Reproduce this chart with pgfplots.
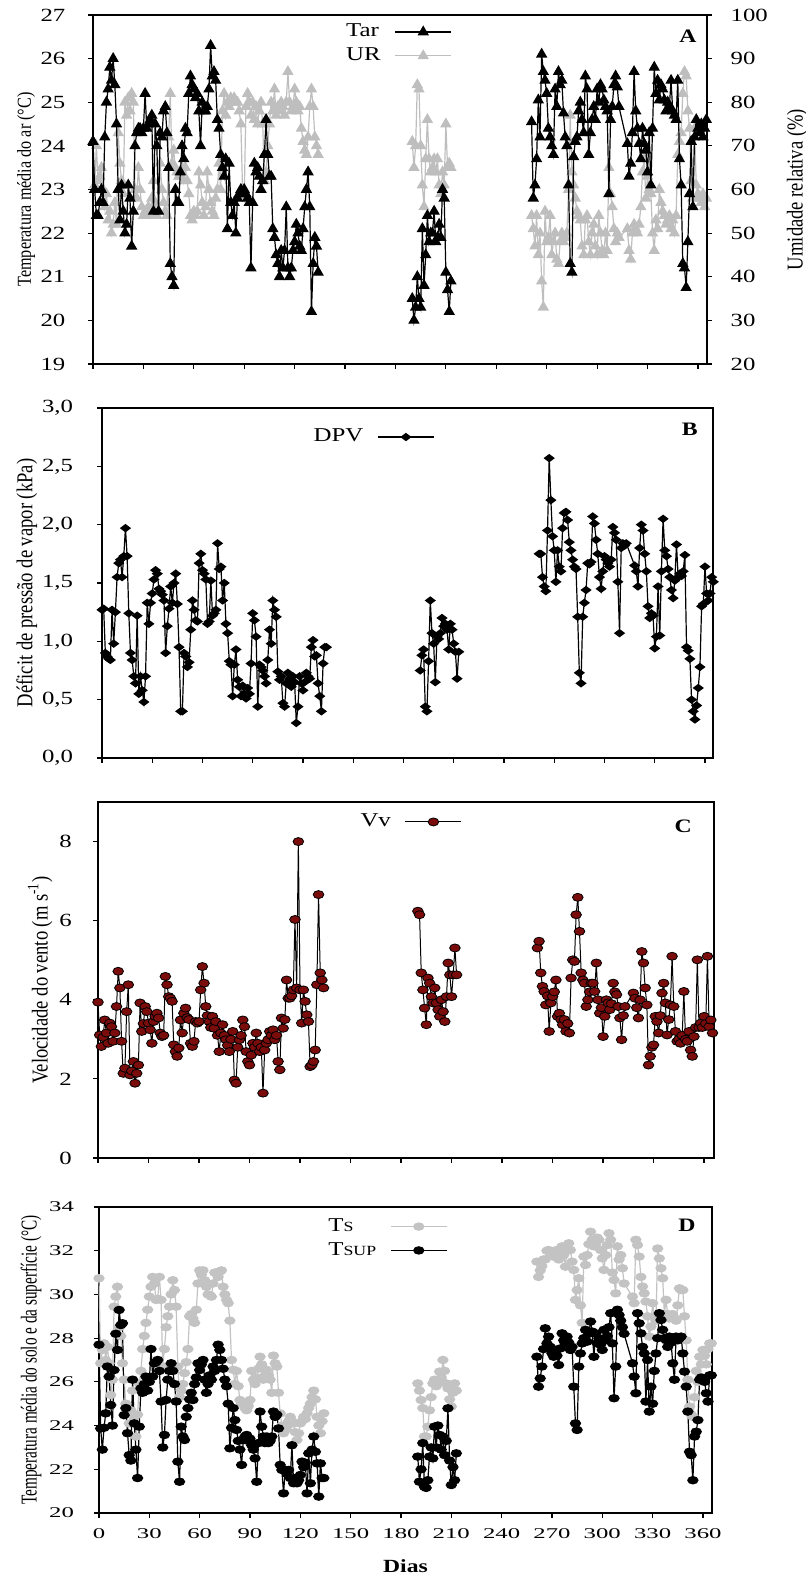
\documentclass[border=0pt]{standalone}
\usepackage{fontspec}
\setmainfont{Liberation Serif}
\usepackage{graphicx}
\usepackage{pgfplots}
\usepackage{pgfplotstable}
\pgfplotsset{compat=1.18}
\newcommand\tickfont{\fontsize{9.3}{10}\selectfont}
\newcommand\legfont{\fontsize{9.8}{11}\selectfont}
\newcommand\labfont{\fontsize{9.3}{11}\selectfont}
\newcommand\sx[1]{\scalebox{1.27}[1]{#1}}
\newcommand\sy[1]{\scalebox{1}[1.22]{#1}}
\newcommand\smallS[1]{{\fontsize{7}{7}\selectfont #1}}
\definecolor{urgray}{RGB}{190,190,190}
\definecolor{tsgray}{RGB}{195,195,195}
\definecolor{vvred}{RGB}{122,12,12}
\tikzset{letter/.style={font=\bfseries\fontsize{9.5}{10}\selectfont, xscale=1.25}}
\pgfplotsset{
  panel/.style={scale only axis, anchor=south west, xmin=0, xtick={0,30,...,360},
    tick align=outside, xtick pos=left, ytick pos=left, major tick length=2.5pt,
    minor tick num=0,
    axis line style={line width=0.6pt}, every tick/.style={black,line width=0.6pt},
    tick label style={font=\tickfont, xscale=1.33},
    /pgf/number format/assume math mode=true, clip=false, unbounded coords=jump,
    legend plot pos=right, legend cell align=left,
    legend style={draw=none, fill=none, font=\legfont, inner sep=0pt,
      /tikz/every odd column/.append style={column sep=5pt}},
    legend image code/.code={\draw[mark repeat=2,mark phase=2,##1] plot coordinates {(0pt,0pt) (14pt,0pt) (28pt,0pt)};}
  }
}
\pgfplotstableread{
d Tar UR DPV Vv TS TSUP
0 24.1 71 1.27 3.94 30.74 27.7
1 23.0 61 1.28 3.11 26.85 23.87
2 22.4 70 0.90 2.82 27.46 22.9
3 22.4 62 0.87 3.05 27.76 23.9
4 22.7 63 0.85 3.49 27.0 24.56
5 23.0 65 0.84 3.16 27.6 26.7
6 22.7 60 1.27 2.90 26.85 26.24
7 24.2 56 0.98 3.41 25.4 24.94
8 25.0 59 1.25 3.32 26.1 24.0
9 25.3 53 1.55 2.95 29.44 26.54
10 25.8 55 1.67 3.16 29.9 28.2
11 25.5 50 1.70 3.83 30.35 27.46
12 26.0 52 1.55 4.72 28.5 29.29
13 25.4 57 1.73 4.30 28.1 28.6
14 24.5 52 1.97 2.95 26.85 28.68
15 23.0 73 1.73 2.14 26.1 24.48
16 22.3 66 1.24 2.27 25.0 24.8
17 23.1 62 0.90 3.70 23.65 23.65
18 22.5 59 0.84 4.38 24.1 22.65
19 22.0 80 0.70 2.10 24.7 22.4
20 22.2 77 0.64 2.20 25.6 26.1
21 23.1 81 1.22 2.44 24.4 24.1
22 22.8 78 0.55 1.89 23.5 22.9
23 21.7 82 0.70 2.14 24.5 21.6
24 22.5 80 0.58 2.35 25.9 23.95
25 24.0 60 0.48 3.92 26.5 25.7
26 24.3 58 0.70 3.20 27.5 25.5
27 24.4 65 1.33 3.40 28.1 25.9
28 24.4 60 1.15 3.83 28.7 26.24
29 24.3 56 1.33 3.70 29.3 25.6
30 24.4 54 1.41 3.41 29.9 26.0
31 25.2 55 1.53 3.24 30.35 27.5
32 24.4 54 1.61 2.90 30.8 26.24
33 24.5 56 1.58 3.45 30.5 26.85
34 24.6 54 1.45 3.58 29.75 26.9
35 24.7 58 1.43 3.66 29.8 27.0
36 22.5 62 1.40 3.54 30.8 26.5
37 24.5 57 1.35 3.16 29.75 25.1
38 24.0 54 0.90 3.07 26.7 23.0
39 22.5 55 1.13 3.10 27.5 23.57
40 24.3 66 1.28 4.59 28.5 25.17
41 24.2 60 1.47 4.38 29.0 26.1
42 24.8 57 1.33 4.08 29.44 26.5
43 24.9 55 1.50 4.04 30.0 26.85
44 24.3 54 1.58 3.96 30.65 26.5
45 23.5 72 1.32 2.86 30.2 25.9
46 21.3 82 0.95 2.69 29.44 25.1
47 21.0 66 0.40 2.57 26.7 22.35
48 20.8 69 0.40 2.78 25.3 21.43
49 23.0 65 0.90 3.49 25.6 23.95
50 22.7 64 0.87 3.16 25.9 23.5
51 22.7 63 0.78 3.66 26.4 23.34
52 23.4 63 0.82 3.79 26.9 24.4
53 24.0 65 1.10 3.55 27.5 24.8
54 23.7 62 1.35 3.50 29.0 25.2
55 24.4 65 1.27 2.90 29.1 25.5
56 24.3 62 1.18 2.82 28.9 25.17
57 25.2 59 1.17 2.95 28.7 25.9
58 25.6 54 1.67 3.45 29.3 26.2
59 25.4 53 1.75 3.41 30.5 26.85
60 25.3 55 1.61 3.45 31.1 26.54
61 25.1 54 1.58 4.25 30.9 26.8
62 25.2 55 1.53 4.84 31.1 27.0
63 24.8 64 1.15 4.42 30.65 26.1
64 24.0 61 1.17 3.83 30.35 25.5
65 25.0 57 1.52 3.60 30.0 25.9
66 24.8 54 1.22 3.45 29.97 26.3
67 24.8 56 1.24 3.30 29.9 26.1
68 24.9 64 1.27 3.58 30.5 26.7
69 25.3 60 1.84 3.28 31.0 26.5
70 26.3 57 1.62 3.45 31.0 27.0
71 25.6 55 1.64 3.10 30.8 27.7
72 25.7 54 1.35 2.69 31.05 27.46
73 25.5 58 1.50 3.16 31.1 27.0
74 24.6 60 1.15 3.37 30.35 26.6
75 24.4 66 1.07 3.10 30.0 26.1
76 23.8 60 0.83 2.99 29.75 25.8
77 23.5 78 0.80 2.85 29.6 25.0
78 23.3 82 0.53 2.69 28.8 22.96
79 23.7 77 0.80 3.00 27.0 23.9
80 22.1 80 0.93 3.20 26.55 24.8
81 23.6 79 0.67 1.97 25.9 24.25
82 22.7 81 0.61 1.89 26.5 23.8
83 22.4 80 0.53 2.80 25.8 23.3
84 22.7 81 0.62 2.99 25.17 22.9
85 22.0 80 0.55 3.10 25.0 22.2
86 22.8 80 0.51 3.49 25.0 23.34
87 22.9 78 0.60 3.32 24.8 23.5
88 23.0 75 0.55 2.69 24.7 23.57
89 22.9 60 0.81 2.44 24.9 23.3
90 23.0 58 1.24 2.35 25.17 23.4
91 22.9 79 1.18 2.60 26.5 23.1
92 22.8 82 1.04 2.90 26.1 22.9
93 22.7 80 0.44 2.80 25.9 22.5
94 21.2 77 0.80 3.16 26.2 21.43
95 22.7 80 0.78 2.90 26.6 23.2
96 23.6 76 0.75 2.69 27.15 24.64
97 23.4 79 0.70 2.80 26.8 23.95
98 23.5 75 0.64 1.64 26.1 23.5
99 23.3 78 0.84 2.73 26.3 23.2
100 23.0 80 1.10 2.90 26.55 23.5
101 23.2 75 0.98 2.99 26.3 23.2
102 23.8 62 1.35 3.20 26.1 23.3
103 24.6 64 1.27 3.10 25.5 23.5
104 23.8 70 1.21 3.24 27.2 24.64
105 23.3 75 0.74 2.99 26.85 24.4
106 23.3 80 0.67 3.10 26.7 24.5
107 22.1 78 0.70 2.44 25.5 23.87
108 21.9 83 0.47 2.23 24.56 22.2
109 21.5 77 0.44 3.54 24.0 21.97
110 21.3 79 0.64 3.28 23.65 20.9
111 21.0 78 0.73 3.50 23.8 21.97
112 21.6 80 0.68 4.50 23.95 21.8
113 21.2 79 0.61 4.04 24.2 21.97
114 21.6 77 0.70 4.04 24.4 21.6
115 22.6 80 0.65 4.10 24.2 23.1
116 21.2 87 0.30 4.25 24.1 21.36
117 21.0 80 0.44 6.03 23.7 21.6
118 21.2 78 0.70 4.30 23.34 21.36
119 21.6 79 0.64 8.00 23.65 21.5
120 21.8 83 0.58 4.25 24.1 21.74
121 22.2 80 0.65 3.41 24.2 22.35
122 22.0 78 0.73 4.25 24.4 22.1
123 21.7 79 0.70 3.96 24.3 22.3
124 21.6 74 0.68 3.62 24.56 20.9
125 22.1 71 0.95 3.45 24.8 22.73
126 22.6 69 1.01 2.31 25.0 21.36
127 23.0 68 0.87 2.35 25.3 22.9
128 23.4 72 0.88 2.44 25.6 23.5
129 22.6 79 0.64 2.73 25.2 22.8
130 20.2 83 0.53 4.38 24.4 22.27
131 21.3 79 0.40 6.66 24.0 20.75
132 21.9 72 0.81 4.68 23.65 22.27
133 21.7 70 0.95 4.50 24.2 21.6
134 21.1 68 0.95 4.30 24.56 21.6
160 nan nan nan nan nan nan
190 20.5 71 0.75 6.24 25.93 22.58
191 20.0 65 0.88 6.15 25.6 21.43
192 20.3 70 0.93 4.68 25.17 22.0
193 21.0 84 0.44 4.25 24.8 23.2
194 20.5 83 0.40 3.79 23.5 21.2
195 20.3 70 0.83 3.37 23.5 21.15
196 22.1 61 1.35 4.55 23.95 21.5
197 20.8 56 1.07 4.42 24.7 22.58
198 21.5 67 0.98 4.08 25.3 23.0
199 22.4 76 0.65 3.92 25.93 22.5
200 21.8 67 1.04 4.30 26.1 23.95
201 22.0 64 1.02 3.92 25.8 23.0
202 22.0 65 1.07 3.75 25.9 24.0
203 22.5 67 1.20 3.58 26.47 23.57
204 21.8 64 1.13 4.00 26.2 22.9
205 21.9 67 1.15 3.70 27.0 23.5
206 22.2 61 1.10 3.45 26.5 22.65
207 21.9 59 0.93 4.08 25.93 23.3
208 23.0 64 1.15 4.93 25.7 24.79
209 22.8 61 1.10 4.63 25.2 22.4
210 21.1 75 0.98 4.08 24.87 21.28
211 20.7 65 0.91 4.63 25.5 22.1
212 20.2 66 0.68 5.31 25.93 21.5
213 20.9 65 0.91 4.63 25.6 22.73
240 nan nan nan nan nan nan
261 24.55 54 1.75 5.31 31.5 27.15
262 22.8 51 1.75 5.48 30.8 25.78
263 23.1 47 1.55 4.68 31.1 26.16
264 23.7 54 1.47 4.34 31.3 26.7
265 25.05 45 1.43 4.21 31.6 27.5
266 24.2 50 1.95 3.87 31.6 28.45
267 26.1 39 2.57 4.10 32.0 27.76
268 25.7 33 2.21 3.20 32.03 28.07
269 25.5 55 1.90 3.92 31.9 27.6
270 25.2 48 1.78 4.08 31.88 27.3
271 24.4 49 1.51 4.20 31.73 27.15
272 24.2 54 1.78 4.50 32.0 27.46
273 24.0 45 1.64 3.58 32.03 27.2
274 23.8 48 1.60 3.66 31.6 26.77
275 25.3 50 1.97 3.50 31.9 27.53
276 24.9 44 2.10 3.37 32.2 28.22
277 25.7 43 2.11 3.50 31.8 27.9
278 25.4 48 2.04 3.20 31.27 27.76
279 25.5 50 1.85 3.40 32.0 28.07
280 24.75 48 1.78 3.16 32.34 27.8
281 24.2 49 1.70 4.55 32.03 27.46
282 24.0 50 1.64 5.01 31.5 27.6
283 23.1 60 1.62 4.97 31.12 25.78
284 21.3 77 1.21 6.15 29.75 24.1
285 21.1 64 0.73 6.59 30.2 23.8
286 23.75 61 0.64 5.73 30.74 26.7
287 24.1 58 1.21 4.68 29.5 27.3
288 24.2 55 1.33 4.50 28.7 27.76
289 24.8 54 1.44 4.42 31.73 28.0
290 25.0 53 1.67 3.83 31.35 28.38
291 24.6 47 1.66 4.00 31.8 27.84
292 24.3 45 1.68 4.20 32.3 28.2
293 25.6 53 2.07 4.42 32.87 28.76
294 25.3 54 2.01 4.42 32.5 28.3
295 23.8 48 1.87 4.21 32.2 27.15
296 24.3 45 1.75 4.93 32.3 28.22
297 24.6 50 1.55 4.00 32.6 27.76
298 24.9 52 1.45 3.66 32.5 28.0
299 24.6 47 1.60 3.80 32.03 27.7
300 25.3 45 1.73 3.07 31.65 27.46
301 25.0 54 1.70 3.58 31.12 28.38
302 25.4 50 1.67 4.00 31.8 27.91
303 25.3 46 1.64 3.92 32.26 28.1
304 25.05 45 1.70 3.75 32.8 28.5
305 24.9 50 1.98 3.90 32.5 29.14
306 24.8 46 1.93 4.42 31.0 27.76
307 22.9 65 1.87 4.20 30.66 25.25
308 24.6 59 1.51 4.13 30.05 26.7
309 24.9 56 1.07 3.83 32.2 29.3
310 25.4 51 1.80 3.54 31.6 29.06
311 25.6 48 1.84 2.99 31.8 28.8
312 25.35 50 1.82 3.60 31.2 28.5
313 24.9 49 1.84 3.83 30.5 28.2
318 24.05 51 1.65 4.17 29.9 26.85
319 23.3 46 1.60 4.04 29.6 26.24
320 23.6 44 1.47 3.80 32.5 25.48
321 24.3 50 1.80 3.54 32.26 29.14
322 25.7 52 2.00 4.00 31.73 28.68
323 24.8 51 1.95 5.22 30.8 28.22
324 24.4 50 1.75 4.93 30.36 27.6
325 24.05 52 1.60 4.30 30.05 27.3
326 23.7 56 1.30 3.87 29.67 25.1
327 24.4 64 1.20 2.35 29.0 27.0
328 24.05 67 1.24 2.57 28.07 24.64
329 23.9 58 1.22 2.80 28.53 25.78
330 23.4 63 0.94 2.86 29.6 25.0
331 24.3 60 1.04 3.58 29.0 26.5
332 23.1 59 1.47 3.45 28.8 27.3
333 24.4 50 1.05 3.16 32.1 28.0
334 25.8 46 1.60 3.60 31.65 29.14
335 25.2 53 2.05 4.17 31.2 28.83
336 25.5 51 1.78 4.42 30.74 28.38
337 25.05 60 1.73 3.92 29.1 28.0
338 25.4 57 1.62 3.11 29.75 27.91
339 25.3 55 1.55 3.50 29.1 27.6
340 25.05 54 1.44 3.87 28.9 28.07
341 24.8 52 1.37 5.10 29.0 27.8
342 25.0 53 1.52 3.83 29.1 26.85
343 24.9 54 1.83 3.20 28.9 26.1
344 25.5 51 1.55 2.95 28.8 28.07
345 24.8 53 1.58 3.00 29.5 27.9
346 24.7 50 1.56 2.90 30.28 28.0
347 24.6 54 1.60 3.10 30.2 28.07
348 25.5 68 1.74 4.21 30.2 27.3
349 23.7 71 0.95 3.00 29.0 26.47
350 23.1 73 0.92 2.95 27.9 25.78
351 21.3 82 0.85 3.20 26.1 24.64
352 21.2 87 0.50 2.73 24.87 22.8
353 20.75 86 0.40 2.57 24.5 22.65
354 21.8 78 0.33 3.07 24.4 21.5
355 22.9 74 0.45 3.30 25.3 23.5
356 24.1 62 0.60 5.01 26.5 23.72
357 22.6 58 0.78 3.30 26.0 24.25
358 24.2 74 1.30 3.41 27.15 26.1
359 24.6 61 1.32 3.30 26.8 26.2
360 24.4 59 1.64 3.58 27.46 26.16
361 24.3 58 1.41 3.40 27.2 26.0
362 24.5 57 1.35 5.10 26.8 25.48
363 24.2 59 1.41 3.32 27.5 25.1
364 24.4 56 1.55 3.49 27.76 26.3
365 24.6 58 1.51 3.16 27.76 26.3
}\data

\begin{document}
\begin{tikzpicture}
\useasboundingbox (0,0) rectangle (403pt,787.5pt);

% ---------- Panel A : UR (right axis) ----------
\begin{axis}[panel, at={(46.5pt,605.5pt)}, width=307pt, height=174.5pt, xmax=365.4,
  ymin=20, ymax=100, ytick={20,30,...,100},
  axis y line*=right, axis x line=none, ytick pos=right, yticklabel pos=right,
  yticklabel style={anchor=west, xshift=3.5pt},
  ylabel={\sy{Umidade relativa (\%)}},
  every axis y label/.style={at={(axis description cs:1.147,0.5)}, rotate=90, anchor=center, font=\labfont}]
\addplot[urgray, line width=0.6pt, mark=triangle*, mark size=2.7pt] table[x=d,y=UR]{\data};
\end{axis}

% ---------- Panel A : Tar ----------
\begin{axis}[panel, at={(46.5pt,605.5pt)}, width=307pt, height=174.5pt, xmax=365.4,
  ymin=19, ymax=27, ytick={19,20,...,27}, xticklabels={},
  yticklabel style={xshift=-5pt},
  ylabel={\sy{Temperatura média do ar (°C)}},
  every axis y label/.style={at={(axis description cs:-0.109,0.5)}, rotate=90, anchor=center, font=\fontsize{8.1}{10}\selectfont},
  legend style={at={(axis description cs:0.405,0.917)}, anchor=west}]
\addplot[black, line width=0.6pt, mark=triangle*, mark size=2.7pt] table[x=d,y=Tar]{\data};
\addlegendentry{\sx{Tar}}
\addlegendimage{urgray, line width=0.6pt, mark=triangle*, mark size=2.7pt}
\addlegendentry{\sx{UR}}
\node[letter] at (axis description cs:0.969,0.94) {A};
\end{axis}

% ---------- Panel B : DPV ----------
\begin{axis}[panel, at={(51pt,408.5pt)}, width=305.5pt, height=175pt, xmax=364.8,
  ymin=0, ymax=3, ytick={0,0.5,...,3}, xticklabels={},
  yticklabel style={xshift=-5.5pt, /pgf/number format/.cd, fixed, fixed zerofill, precision=1, use comma},
  ylabel={\sy{Déficit de pressão de vapor (kPa)}},
  every axis y label/.style={at={(axis description cs:-0.123,0.5)}, rotate=90, anchor=center, font=\labfont},
  legend style={at={(axis description cs:0.339,0.917)}, anchor=west}]
\addplot[black, line width=0.6pt, mark=diamond*, mark size=2.3pt, mark options={rotate=90}] table[x=d,y=DPV]{\data};
\addlegendentry{\sx{DPV}}
\node[letter] at (axis description cs:0.962,0.94) {B};
\end{axis}

% ---------- Panel C : Vv ----------
\begin{axis}[panel, at={(49pt,208.5pt)}, width=308pt, height=178pt, xmax=365.9,
  ymin=0, ymax=9, ytick={0,2,4,6,8}, xticklabels={},
  yticklabel style={xshift=-4.5pt},
  ylabel={\sy{Velocidade do vento (m s\textsuperscript{-1})}},
  every axis y label/.style={at={(axis description cs:-0.094,0.5)}, rotate=90, anchor=center, font=\labfont},
  legend style={at={(axis description cs:0.419,0.944)}, anchor=west}]
\addplot[black, line width=0.5pt, mark=*, mark size=2pt, mark options={fill=vvred, draw=black, line width=0.4pt, xscale=1.33}] table[x=d,y=Vv]{\data};
\addlegendentry{\sx{Vv}}
\node[letter] at (axis description cs:0.95,0.933) {C};
\end{axis}

% ---------- Panel D : TS and TSUP ----------
\begin{axis}[panel, at={(49.5pt,31pt)}, width=306.5pt, height=153pt, xmax=365.4,
  ymin=20, ymax=34, ytick={20,22,...,34},
  tick label style={yscale=0.8},
  xticklabel style={yshift=-3pt},
  yticklabel style={xshift=-4pt},
  ylabel={\scalebox{0.82}[1.22]{Temperatura média do solo e da superfície (°C)}},
  every axis y label/.style={at={(axis description cs:-0.111,0.5)}, rotate=90, anchor=center, font=\labfont},
  xlabel={\sx{\textbf{Dias}}},
  every axis x label/.style={at={(axis description cs:0.5,-0.173)}, anchor=center, font=\labfont},
  legend style={at={(axis description cs:0.367,0.897)}, anchor=west, row sep=0pt}]
\addplot[tsgray, line width=0.6pt, mark=*, mark size=1.8pt, mark options={xscale=1.4}] table[x=d,y=TS]{\data};
\addlegendentry{\sx{T\smallS{S}}}
\addplot[black, line width=0.6pt, mark=*, mark size=1.8pt, mark options={xscale=1.4}] table[x=d,y=TSUP]{\data};
\addlegendentry{\sx{T\smallS{SUP}}}
\node[letter] at (axis description cs:0.959,0.941) {D};
\end{axis}
\end{tikzpicture}
\end{document}
